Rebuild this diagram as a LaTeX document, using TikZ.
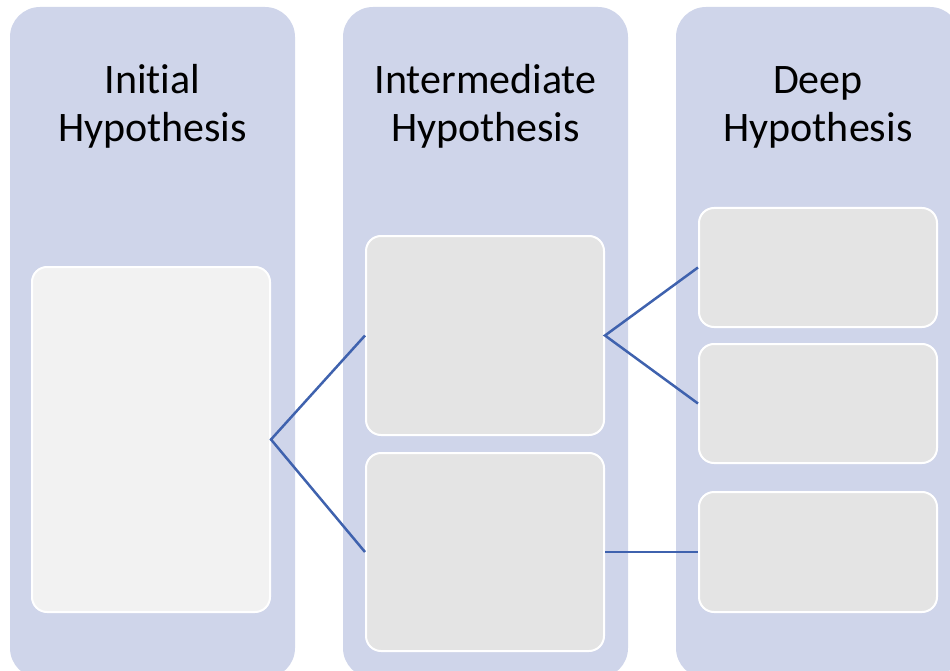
\documentclass[tikz,border=0pt]{standalone}
\usepackage{fontspec}
\setmainfont[Ligatures={NoCommon,NoRare,NoDiscretionary}]{Carlito}
\definecolor{colfill}{HTML}{CFD5EA}
\definecolor{boxA}{HTML}{F2F2F2}
\definecolor{boxB}{HTML}{E4E4E4}
\definecolor{linkc}{HTML}{3F62AE}
\begin{document}
\begin{tikzpicture}[x=1pt,y=-1pt,
  column/.style={fill=colfill,draw=none,rounded corners=30pt},
  hbox/.style={draw=white,line width=2pt,rounded corners=15pt,inner sep=0pt},
  link/.style={draw=linkc,line width=2.5pt},
  title/.style={font=\fontsize{42}{48}\selectfont,align=center,anchor=base,inner sep=0pt}]
\useasboundingbox (0,0) rectangle (950,671);
\begin{scope}
\clip (0,0) rectangle (950,671);
\fill[column] (10,7) rectangle (295,678);
\fill[column] (343,7) rectangle (628,678);
\fill[column] (676,7) rectangle (960,678);
\end{scope}
\node[title] (t1) at (152.5,142) {Initial\\Hypothesis};
\node[title] (t2) at (485.5,142) {Intermediate\\Hypothesis};
\node[title] (t3) at (818,142) {Deep\\Hypothesis};
% boxes
\node[hbox,fill=boxA,minimum width=238pt,minimum height=345pt] (a) at (151,439.5) {};
\node[hbox,fill=boxB,minimum width=238pt,minimum height=199pt] (b1) at (485,335.5) {};
\node[hbox,fill=boxB,minimum width=238pt,minimum height=198pt] (b2) at (485,552) {};
\node[hbox,fill=boxB,minimum width=238pt,minimum height=119pt] (c1) at (818,267.5) {};
\node[hbox,fill=boxB,minimum width=238pt,minimum height=119pt] (c2) at (818,403.5) {};
\node[hbox,fill=boxB,minimum width=238pt,minimum height=120pt] (c3) at (818,552) {};
% connectors
\draw[link] (b1.west) -- (a.east) -- (b2.west);
\draw[link] (c1.west) -- (b1.east) -- (c2.west);
\draw[link] (b2.east) -- (c3.west);
\end{tikzpicture}
\end{document}
